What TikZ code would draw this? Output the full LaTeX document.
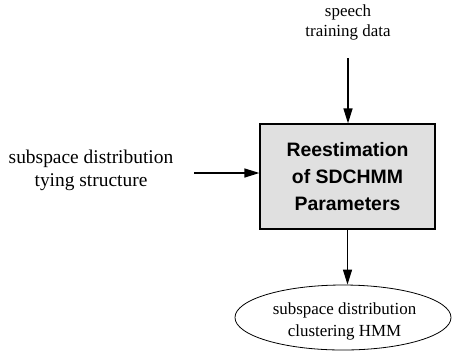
\documentclass[tikz,border=0pt]{standalone}
\usepackage{fontspec}
\setmainfont{Liberation Serif}
\newfontfamily\hv{Liberation Sans}
\usetikzlibrary{arrows.meta,shapes.geometric}
\begin{document}
\begin{tikzpicture}[x=1bp,y=-1bp,
  arr/.style={line width=1.3bp,-{Triangle[length=15bp,width=9bp]}},
  plain/.style={inner sep=0pt,align=center}]
\useasboundingbox (0,0) rectangle (452,354);
\node[draw,line width=1.2bp,fill=black!12,minimum width=175bp,minimum height=105bp,
  font=\hv\bfseries\fontsize{19.5}{27}\selectfont,align=center] (box) at (347.5,176.5)
  {Reestimation\\of SDCHMM\\Parameters};
\node[draw,ellipse,line width=0.8bp,minimum width=216bp,minimum height=65bp] (ell) at (343,317.5) {};
\node[plain,font=\fontsize{17}{22}\selectfont] (elltext) at (344.5,321) {subspace distribution\\clustering HMM};
\node[plain,font=\fontsize{17}{20}\selectfont] (speech) at (348,22) {speech\\training data};
\node[plain,font=\fontsize{19.5}{23}\selectfont] (tying) at (91,170) {subspace distribution\\tying structure};
\coordinate (tstart) at (348,58);
\coordinate (lstart) at (194,173);
\draw[arr] (tstart) -- (tstart |- box.north);
\draw[arr] (lstart) -- (lstart -| box.west);
\draw[arr] (box.south) -- (box.south |- ell.north);
\end{tikzpicture}
\end{document}
